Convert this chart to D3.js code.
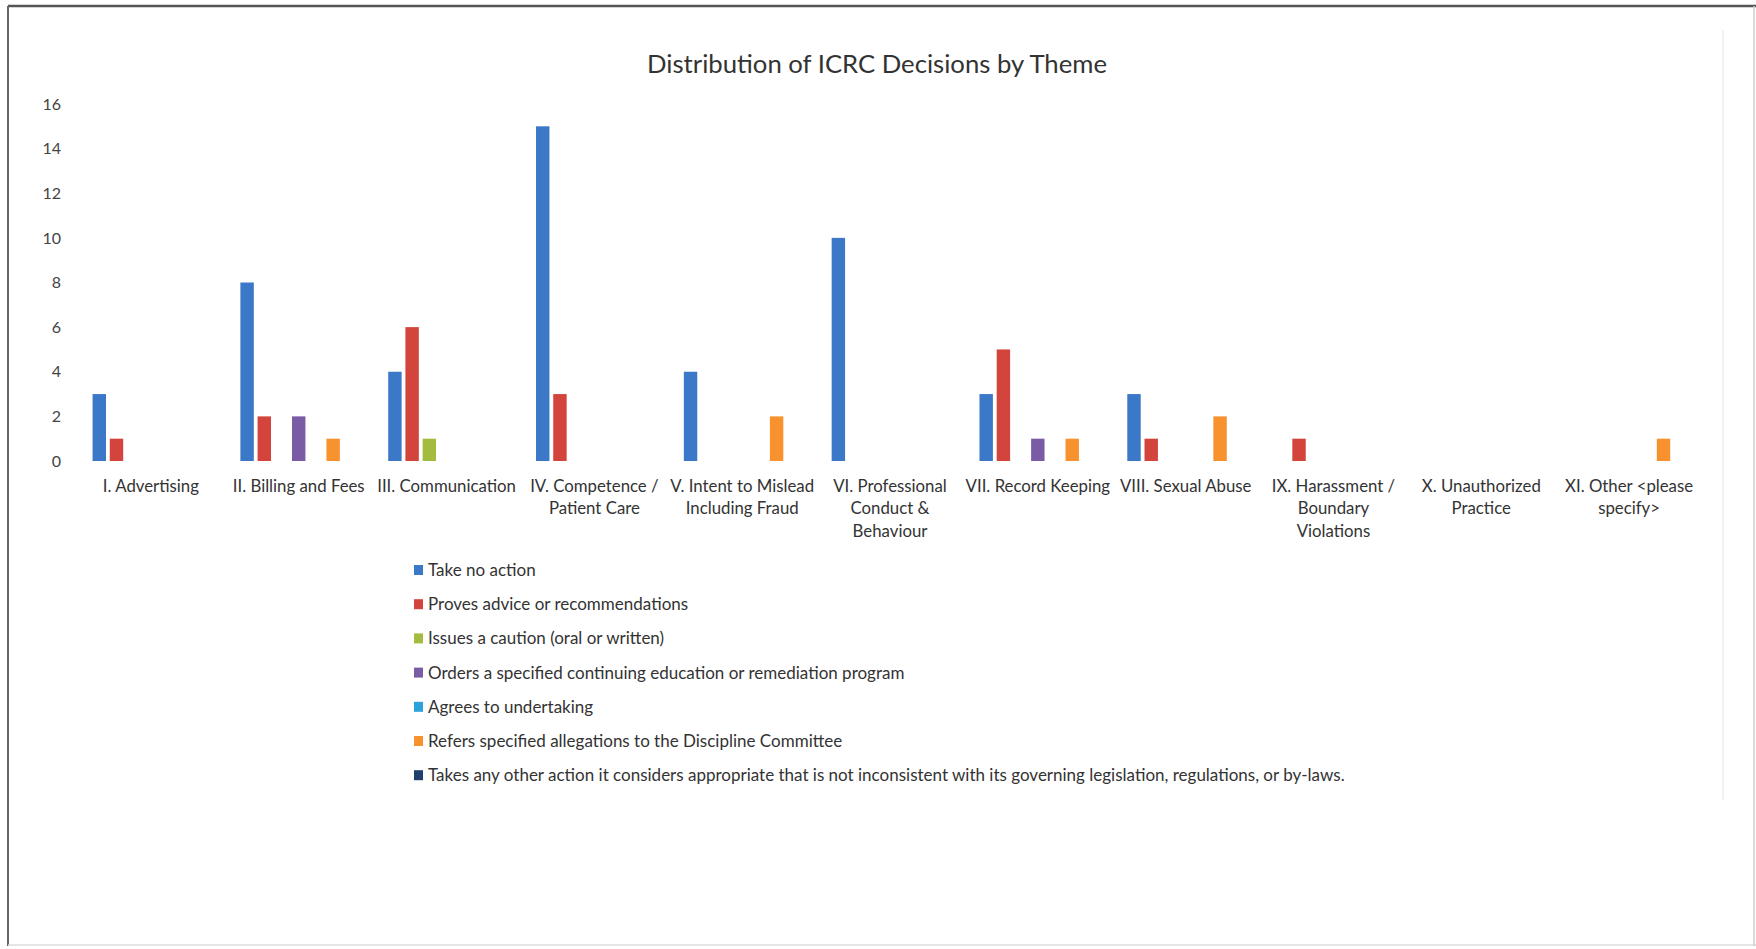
<!DOCTYPE html>
<html lang="en">
<head>
<meta charset="UTF-8" />
<title>Distribution of ICRC Decisions by Theme</title>
<script src="https://cdnjs.cloudflare.com/ajax/libs/d3/7.8.5/d3.min.js"></script>
<style>
  body { margin: 0; background: #fff; }
  svg { display: block; font-family: Lato, "Open Sans", sans-serif; }
</style>
</head>
<body>
<div class="chart"></div>
<script>
  // categories (themes), "\n" marks the line breaks used on the axis
  const themes = [
    "I. Advertising",
    "II. Billing and Fees",
    "III. Communication",
    "IV. Competence /\nPatient Care",
    "V. Intent to Mislead\nIncluding Fraud",
    "VI. Professional\nConduct &\nBehaviour",
    "VII. Record Keeping",
    "VIII. Sexual Abuse",
    "IX. Harassment /\nBoundary\nViolations",
    "X. Unauthorized\nPractice",
    "XI. Other <please\nspecify>"
  ];

  const seriesNames = [
    "Take no action",
    "Proves advice or recommendations",
    "Issues a caution (oral or written)",
    "Orders a specified continuing education or remediation program",
    "Agrees to undertaking",
    "Refers specified allegations to the Discipline Committee",
    "Takes any other action it considers appropriate that is not inconsistent with its governing legislation, regulations, or by-laws."
  ];

  const seriesColors = ["#3b78c8", "#d2443c", "#a3bb3e", "#7a5ca6", "#2aa2da", "#f7922f", "#1f3f6e"];

  // one array per series, in theme order
  const takeNoAction   = [3, 8, 4, 15, 4, 10, 3, 3, 0, 0, 0];
  const provesAdvice   = [1, 2, 6, 3, 0, 0, 5, 1, 1, 0, 0];
  const issuesCaution  = [0, 0, 1, 0, 0, 0, 0, 0, 0, 0, 0];
  const ordersProgram  = [0, 2, 0, 0, 0, 0, 1, 0, 0, 0, 0];
  const agreesUndertake = [0, 0, 0, 0, 0, 0, 0, 0, 0, 0, 0];
  const refersDiscipline = [0, 1, 0, 0, 2, 0, 1, 2, 0, 0, 1];
  const takesOther     = [0, 0, 0, 0, 0, 0, 0, 0, 0, 0, 0];

  const yTicks = [0, 2, 4, 6, 8, 10, 12, 14, 16];

  const seriesValues = [takeNoAction, provesAdvice, issuesCaution, ordersProgram,
                        agreesUndertake, refersDiscipline, takesOther];

  const width = 1756, height = 949;
  const svg = d3.select(".chart").append("svg")
    .attr("width", width)
    .attr("height", height);

  // outer page frame (scanned sheet)
  svg.append("rect").attr("x", 0).attr("y", 0).attr("width", width).attr("height", height).attr("fill", "#fff");
  svg.append("line").attr("x1", 8).attr("x2", width).attr("y1", 6).attr("y2", 6)
    .attr("stroke", "#555").attr("stroke-width", 2.5);
  svg.append("line").attr("x1", 8).attr("x2", 8).attr("y1", 6).attr("y2", 946)
    .attr("stroke", "#666").attr("stroke-width", 2);
  svg.append("line").attr("x1", 8).attr("x2", width).attr("y1", 945).attr("y2", 945)
    .attr("stroke", "#ddd").attr("stroke-width", 1.5);
  svg.append("line").attr("x1", 1754).attr("x2", 1754).attr("y1", 6).attr("y2", 946)
    .attr("stroke", "#ccc").attr("stroke-width", 1.5);
  // faint chart-area border on the right
  svg.append("line").attr("x1", 1723).attr("x2", 1723).attr("y1", 30).attr("y2", 800)
    .attr("stroke", "#eee").attr("stroke-width", 1.5);

  const plot = { left: 77, right: 1703, top: 104, bottom: 461 };

  const x0 = d3.scaleBand()
    .domain(themes)
    .range([plot.left, plot.right])
    .paddingInner(0.185)
    .paddingOuter(0.0925);

  const x1 = d3.scaleBand()
    .domain(d3.range(seriesNames.length))
    .range([0, x0.bandwidth()])
    .paddingInner(0.22)
    .paddingOuter(0.11);

  const y = d3.scaleLinear()
    .domain([0, 16])
    .range([plot.bottom, plot.top]);

  // title
  svg.append("text")
    .attr("x", 877)
    .attr("y", 73)
    .attr("text-anchor", "middle")
    .attr("font-size", 25.7)
    .attr("fill", "#333")
    .text("Distribution of ICRC Decisions by Theme");

  // y axis, labels only
  const yAxis = d3.axisLeft(y).tickValues(yTicks).tickSize(0).tickPadding(0);
  const gy = svg.append("g")
    .attr("transform", `translate(${plot.left - 16},0)`)
    .call(yAxis);
  gy.select(".domain").remove();
  gy.selectAll("text")
    .attr("font-family", "Lato, sans-serif")
    .attr("font-size", 16)
    .attr("fill", "#444");

  // x axis labels, wrapped onto several lines
  const xAxis = d3.axisBottom(x0).tickSize(0).tickPadding(0).tickFormat("");
  const gx = svg.append("g")
    .attr("transform", `translate(0,${plot.bottom})`)
    .call(xAxis);
  gx.select(".domain").remove();
  gx.selectAll(".tick").each(function (d) {
    const t = d3.select(this).append("text")
      .attr("text-anchor", "middle")
      .attr("font-family", "Lato, sans-serif")
      .attr("font-size", 16.8)
      .attr("fill", "#333");
    d.split("\n").forEach((line, i) => {
      t.append("tspan").attr("x", 0).attr("y", 31 + i * 22.4).text(line);
    });
  });

  // bars
  const groups = svg.append("g").selectAll("g")
    .data(themes)
    .join("g")
    .attr("transform", d => `translate(${x0(d)},0)`);

  groups.selectAll("rect")
    .data((d, ti) => seriesValues.map((vals, si) => ({ si, v: vals[ti] })).filter(e => e.v > 0))
    .join("rect")
    .attr("x", e => x1(e.si))
    .attr("width", x1.bandwidth())
    .attr("y", e => y(e.v))
    .attr("height", e => y(0) - y(e.v))
    .attr("fill", e => seriesColors[e.si]);

  // legend
  const legend = svg.append("g").attr("transform", "translate(414,570)");
  const items = legend.selectAll("g")
    .data(seriesNames)
    .join("g")
    .attr("transform", (d, i) => `translate(0,${i * 34.2})`);
  items.append("rect")
    .attr("x", 0).attr("y", -5).attr("width", 9).attr("height", 10)
    .attr("fill", (d, i) => seriesColors[i]);
  items.append("text")
    .attr("x", 14)
    .attr("y", 6)
    .attr("font-family", "Lato, sans-serif")
    .attr("font-size", 17)
    .attr("fill", "#333")
    .text(d => d);
</script>
</body>
</html>
